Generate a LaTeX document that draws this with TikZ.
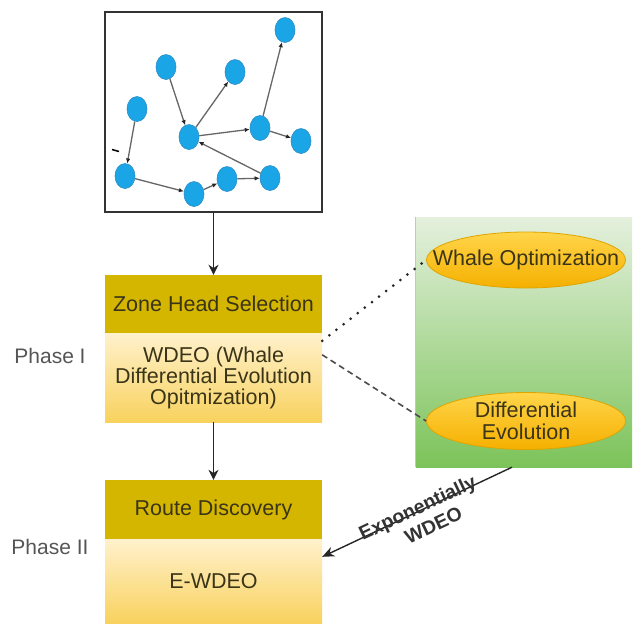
\documentclass[tikz,border=0pt]{standalone}
\usepackage{fontspec}
\setmainfont{Liberation Sans}
\usetikzlibrary{shapes.geometric,arrows.meta}
\definecolor{cyanfill}{HTML}{1AA6E6}
\definecolor{cyanline}{HTML}{2C8CC8}
\definecolor{hdr}{HTML}{D4B600}
\definecolor{bodytop}{HTML}{FFF1CC}
\definecolor{bodybot}{HTML}{F8D25E}
\definecolor{greentop}{HTML}{E4F0DD}
\definecolor{greenbot}{HTML}{7CC35A}
\definecolor{ortop}{HTML}{FFD54A}
\definecolor{orbot}{HTML}{F5B000}
\definecolor{orline}{HTML}{E0A400}
\definecolor{txt}{HTML}{3A3418}
\definecolor{phasetxt}{HTML}{555555}
\definecolor{edge}{HTML}{666666}
\tikzset{
  net/.style={ellipse,draw=cyanline,fill=cyanfill,line width=0.6pt,minimum width=20pt,minimum height=25pt,inner sep=0pt},
  netedge/.style={draw=edge,line width=1.3pt,-{Latex[length=5pt,width=4.5pt,fill=black!85,color=black!85]}},
  hdrbox/.style={rectangle,fill=hdr,minimum width=217pt,inner sep=0pt,text=txt,font=\fontsize{21.5}{24}\selectfont},
  bodybox/.style={rectangle,top color=bodytop,bottom color=bodybot,minimum width=217pt,inner sep=0pt,text=txt,font=\fontsize{21.5}{21}\selectfont,align=center},
  ovalbox/.style={ellipse,draw=orline,line width=0.8pt,top color=ortop,bottom color=orbot,minimum width=199pt,minimum height=56pt,inner sep=0pt},
  ovaltext/.style={inner sep=0pt,text=txt,font=\fontsize{21.5}{22}\selectfont,align=center},
  phase/.style={text=phasetxt,font=\fontsize{21}{23}\selectfont},
  flow/.style={draw=black!85,line width=1.6pt,-{Stealth[length=10pt,width=10pt]}},
  lbl/.style={rotate=25.3,font=\bfseries\fontsize{19.5}{21}\selectfont,text=black!80,inner sep=0pt}
}
\begin{document}
\begin{tikzpicture}[x=1pt,y=-1pt]
\useasboundingbox (0,0) rectangle (634,625);
% top network box
\node[draw=black!80,line width=1.5pt,fill=white,minimum width=217pt,minimum height=200pt,inner sep=0pt] (netbox) at (213.5,112) {};
\node[net] (n1) at (285,30) {};
\node[net] (n2) at (166,67) {};
\node[net] (n3) at (235,72) {};
\node[net] (n4) at (137,109) {};
\node[net] (n5) at (189,137) {};
\node[net] (n6) at (260,128) {};
\node[net] (n7) at (301,141) {};
\node[net] (n8) at (125,176) {};
\node[net] (n9) at (194,194) {};
\node[net] (n10) at (227,179) {};
\node[net] (n11) at (270,178) {};
\draw[netedge] (n2) -- (n5);
\draw[netedge] (n5) -- (n3);
\draw[netedge] (n5) -- (n6);
\draw[netedge] (n6) -- (n1);
\draw[netedge] (n6) -- (n7);
\draw[netedge] (n11) -- (n5);
\draw[netedge] (n4) -- (n8);
\draw[netedge] (n8) -- (n9);
\draw[netedge] (n9) -- (n10);
\draw[netedge] (n10) -- (n11);
\coordinate (m1) at (112,149.5);
\coordinate (m2) at (119,151.5);
\draw[black,line width=1.5pt] (m1) -- (m2);
% phase I
\node[hdrbox,minimum height=58pt] (zh) at (213.5,304) {Zone Head Selection};
\node[bodybox,minimum height=89pt] (wdeo) at (213.5,377.5) {WDEO (Whale\\Differential Evolution\\Opitmization)};
\node[phase] (p1) at (50,356) {Phase I};
% phase II
\node[hdrbox,minimum height=59pt] (rd) at (213.5,509.5) {Route Discovery};
\node[bodybox,minimum height=84pt] (ew) at (213.5,581) {E-WDEO};
\node[phase] (p2) at (50,547) {Phase II};
% green box
\node[rectangle,top color=greentop,bottom color=greenbot,minimum width=216pt,minimum height=250pt,inner sep=0pt] (green) at (524,342) {};
\draw[green!60!black!70,line width=1pt,opacity=0.5] (green.north west) -- (green.south west);
\node[ovalbox] (wo) at (526,260) {};
\node[ovaltext] (wot) at (wo.center) {Whale Optimization};
\node[ovalbox,minimum height=57pt] (de) at (526,421) {};
\node[ovaltext] (det) at (de.center) {Differential\\Evolution};
% connectors
\draw[flow] (netbox.south) -- (zh.north);
\draw[flow] (wdeo.south) -- (rd.north);
\draw[black!85,line width=3pt,dash pattern=on 0pt off 9pt,line cap=round] ([yshift=-8pt]wdeo.north east) -- (wo.west);
\draw[black!70,line width=1.6pt,dash pattern=on 6pt off 4pt] ([yshift=-22pt]wdeo.north east) -- (de.west);
\draw[black!85,line width=1.4pt,-{Stealth[length=12pt,width=10pt]}] ([xshift=-12pt]green.south) -- ([yshift=-18pt]ew.north east)
  node[pos=0.49,lbl,yshift=2pt] (lbl1) {Exponentially}
  node[pos=0.49,lbl,yshift=-19pt,xshift=7pt] (lbl2) {WDEO};
\end{tikzpicture}
\end{document}
